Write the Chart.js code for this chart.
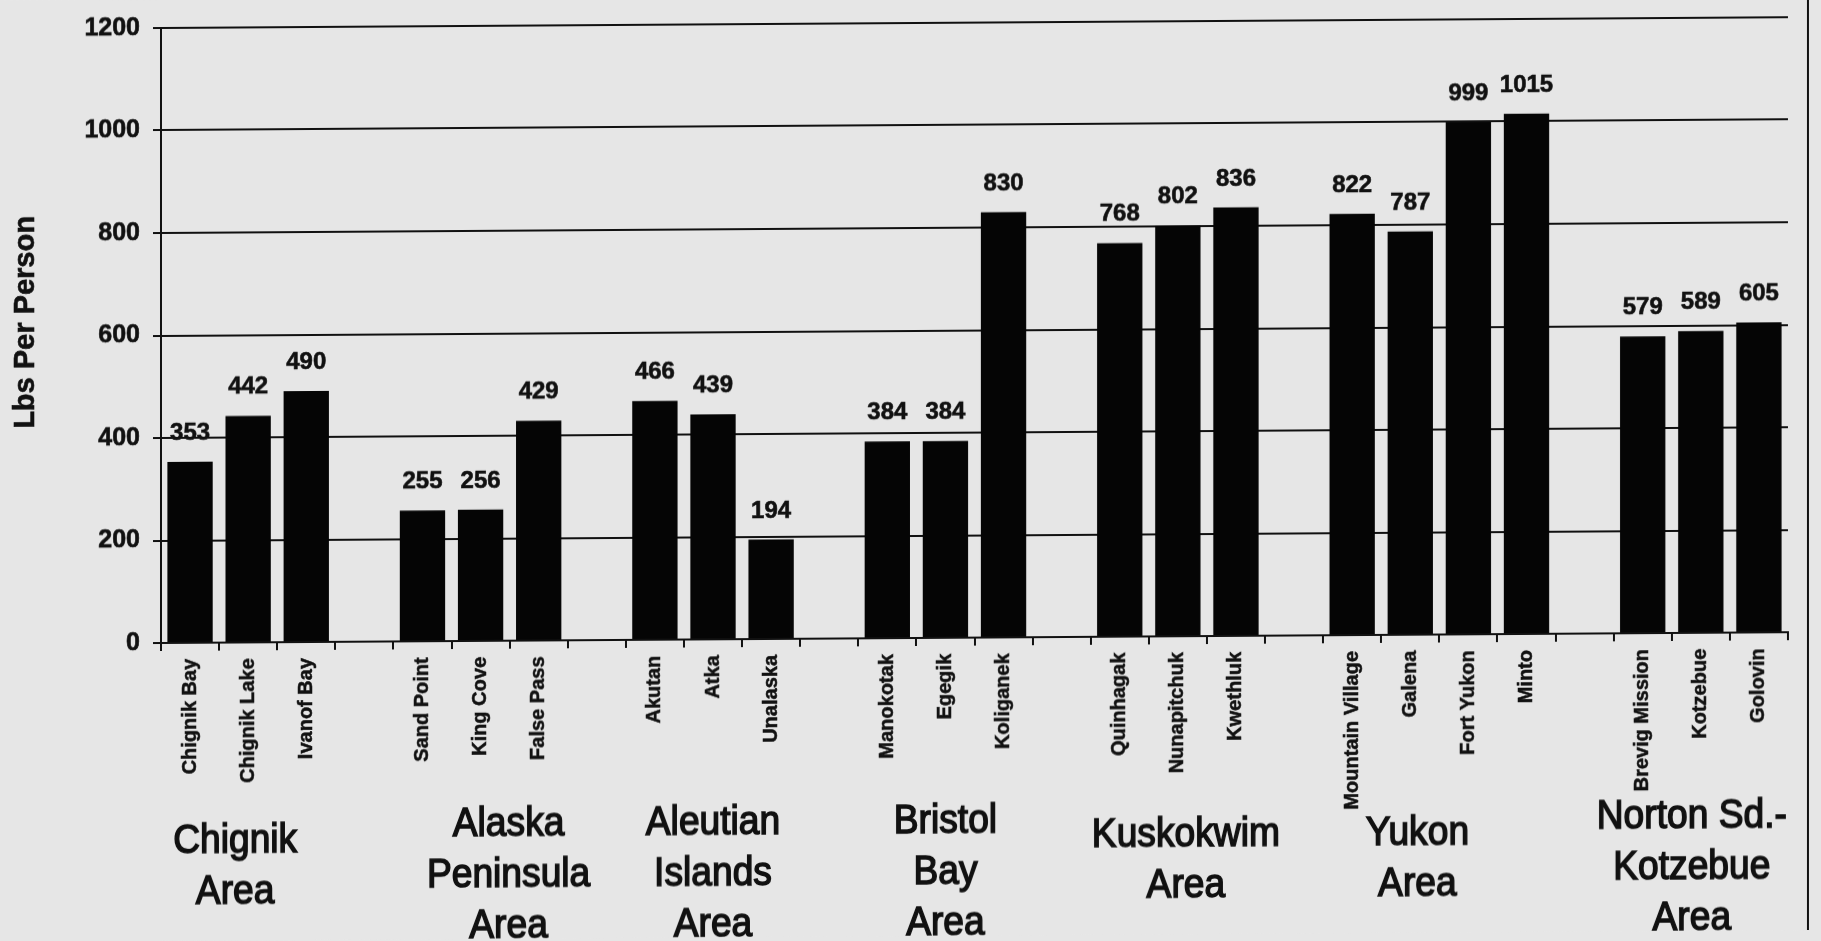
<!DOCTYPE html>
<html>
<head>
<meta charset="utf-8">
<title>Lbs Per Person by Community</title>
<script src="https://cdn.jsdelivr.net/npm/chart.js@4"></script>
<style>
  html, body { margin: 0; padding: 0; background: #e6e6e6; overflow: hidden; }
  #wrap { width: 1821px; height: 941px; position: relative; }
  /* slight skew of the printed page */
  #chart { display: block; transform-origin: 161px 643px; transform: skewY(-0.38deg); }
</style>
</head>
<body>
<div id="wrap"><canvas id="chart" width="1821" height="941"></canvas></div>
<script>
// Communities, in display order, and their harvest in pounds per person
const communities = [
  'Chignik Bay', 'Chignik Lake', 'Ivanof Bay',
  'Sand Point', 'King Cove', 'False Pass',
  'Akutan', 'Atka', 'Unalaska',
  'Manokotak', 'Egegik', 'Koliganek',
  'Quinhagak', 'Nunapitchuk', 'Kwethluk',
  'Mountain Village', 'Galena', 'Fort Yukon', 'Minto',
  'Brevig Mission', 'Kotzebue', 'Golovin'
];
const lbsPerPerson = [
  353, 442, 490,
  255, 256, 429,
  466, 439, 194,
  384, 384, 830,
  768, 802, 836,
  822, 787, 999, 1015,
  579, 589, 605
];
// Regional groupings (label lines) and how many communities each holds
const areaNames = [
  ['Chignik', 'Area'],
  ['Alaska', 'Peninsula', 'Area'],
  ['Aleutian', 'Islands', 'Area'],
  ['Bristol', 'Bay', 'Area'],
  ['Kuskokwim', 'Area'],
  ['Yukon', 'Area'],
  ['Norton Sd.-', 'Kotzebue', 'Area']
];
const areaSizes = [3, 3, 3, 3, 3, 4, 3];
// Value axis
const yMin = 0, yMax = 1200, yStep = 200;

// Horizontal nudges (px) for the area captions
const areaLabelShift = [-13, 28, 0, 0, 8, -22, -9];

// Build the category axis with an empty slot between areas
const labels = [];
const values = [];
const areaSpans = [];
let k = 0;
areaSizes.forEach((n, a) => {
  if (a > 0) { labels.push(''); values.push(null); }
  const start = labels.length;
  for (let i = 0; i < n; i++) { labels.push(communities[k]); values.push(lbsPerPerson[k]); k++; }
  areaSpans.push({ start: start, end: labels.length - 1, lines: areaNames[a], shift: areaLabelShift[a] });
});

const INK = '#111111';
const FONT = "'Liberation Sans', Arial, Helvetica, sans-serif";

const pagePlugin = {
  id: 'page',
  beforeDraw(chart) {
    const ctx = chart.ctx;
    ctx.save();
    ctx.fillStyle = '#e6e6e6';
    ctx.fillRect(0, 0, chart.width, chart.height);
    ctx.restore();
  },
  afterDatasetsDraw(chart) {
    const ctx = chart.ctx;
    const meta = chart.getDatasetMeta(0);
    ctx.save();
    ctx.fillStyle = INK;
    ctx.strokeStyle = INK;
    ctx.lineWidth = 0.6;
    ctx.font = 'bold 24px ' + FONT;
    ctx.textAlign = 'center';
    ctx.textBaseline = 'alphabetic';
    meta.data.forEach((bar, i) => {
      const v = chart.data.datasets[0].data[i];
      if (v === null || v === undefined) return;
      ctx.fillText(String(v), bar.x, bar.y - 22);
      ctx.strokeText(String(v), bar.x, bar.y - 22);
    });
    ctx.restore();
  },
  afterDraw(chart) {
    const ctx = chart.ctx;
    const xs = chart.scales.x;
    const ys = chart.scales.y;
    ctx.save();
    // value axis title
    ctx.fillStyle = INK;
    ctx.strokeStyle = INK;
    ctx.lineWidth = 0.6;
    ctx.font = 'bold 29px ' + FONT;
    ctx.textAlign = 'center';
    ctx.textBaseline = 'middle';
    ctx.save();
    ctx.translate(26, (ys.top + ys.bottom) / 2 - 14);
    ctx.rotate(-Math.PI / 2);
    ctx.fillText('Lbs Per Person', 0, 0);
    ctx.strokeText('Lbs Per Person', 0, 0);
    ctx.restore();

    // area names under the community labels
    ctx.lineWidth = 1.5;
    ctx.font = '40px ' + FONT;
    areaSpans.forEach(span => {
      const cx = (xs.getPixelForValue(span.start) + xs.getPixelForValue(span.end)) / 2 + span.shift;
      const first = span.lines.length === 3 ? 827 : 842;
      span.lines.forEach((line, j) => {
        ctx.save();
        ctx.translate(cx, first + j * 51);
        ctx.scale(0.93, 1);
        ctx.fillText(line, 0, 0);
        ctx.strokeText(line, 0, 0);
        ctx.restore();
      });
    });
    // page frame rule on the right
    ctx.lineWidth = 2;
    ctx.beginPath();
    ctx.moveTo(1808, -20);
    ctx.lineTo(1808, chart.height + 20);
    ctx.stroke();
    ctx.restore();
  }
};

new Chart(document.getElementById('chart'), {
  type: 'bar',
  data: {
    labels: labels,
    datasets: [{
      data: values,
      backgroundColor: '#050505',
      borderWidth: 0,
      categoryPercentage: 1.0,
      barPercentage: 0.78
    }]
  },
  options: {
    responsive: false,
    devicePixelRatio: 1,
    animation: false,
    events: [],
    layout: { padding: { left: 0, top: 25, right: 33, bottom: 0 } },
    plugins: { legend: { display: false }, tooltip: { enabled: false } },
    scales: {
      x: {
        afterFit(scale) { scale.height = 941 - 643; },
        grid: { display: true, drawOnChartArea: false, drawTicks: true, tickLength: 8, color: INK, lineWidth: 2, offset: true },
        border: { display: true, color: INK, width: 2 },
        ticks: {
          autoSkip: false, maxRotation: 90, minRotation: 90, padding: 8,
          color: INK, textStrokeColor: INK, textStrokeWidth: 0.5,
          font: { family: FONT, size: 20, weight: 'bold' }
        }
      },
      y: {
        min: yMin, max: yMax,
        afterFit(scale) { scale.width = 161; },
        grid: { color: INK, lineWidth: 2, tickLength: 8, drawTicks: true },
        border: { display: true, color: INK, width: 2 },
        ticks: {
          stepSize: yStep, padding: 13, color: INK,
          textStrokeColor: INK, textStrokeWidth: 0.6,
          font: { family: FONT, size: 25, weight: 'bold' },
          callback: v => String(v)
        },
        title: { display: false }
      }
    }
  },
  plugins: [pagePlugin]
});
</script>
</body>
</html>
